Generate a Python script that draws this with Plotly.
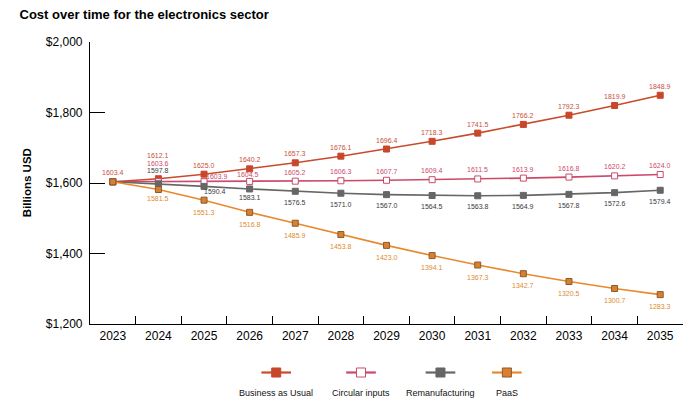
import plotly.graph_objects as go

years = ["2023", "2024", "2025", "2026", "2027", "2028", "2029", "2030", "2031", "2032", "2033", "2034", "2035"]
bau = [1603.4, 1612.1, 1625.0, 1640.2, 1657.3, 1676.1, 1696.4, 1718.3, 1741.5, 1766.2, 1792.3, 1819.9, 1848.9]
circular = [1603.4, 1603.6, 1603.9, 1604.5, 1605.2, 1606.3, 1607.7, 1609.4, 1611.5, 1613.9, 1616.8, 1620.2, 1624.0]
reman = [1603.4, 1597.8, 1590.4, 1583.1, 1576.5, 1571.0, 1567.0, 1564.5, 1563.8, 1564.9, 1567.8, 1572.6, 1579.4]
paas = [1603.4, 1581.5, 1551.3, 1516.8, 1485.9, 1453.8, 1423.0, 1394.1, 1367.3, 1342.7, 1320.5, 1300.7, 1283.3]
series_names = ["Business as Usual", "Circular inputs", "Remanufacturing", "PaaS"]
y_ticks = [1200, 1400, 1600, 1800, 2000]
y_tick_labels = ["$1,200", "$1,400", "$1,600", "$1,800", "$2,000"]

FONT = "Liberation Sans, Arial, Helvetica, sans-serif"

styles = [
    dict(line="#C84B2B", fill="#C8462A", border="#C8462A", text="#C8503A", dy=-9),
    dict(line="#CB4A6C", fill="#FFFFFF", border="#CB4A6C", text="#CB4A6C", dy=-9),
    dict(line="#666666", fill="#666666", border="#666666", text="#3A3A3A", dy=11),
    dict(line="#E8892E", fill="#D98030", border="#8B5A2B", text="#E08A30", dy=12),
]
all_series = [bau, circular, reman, paas]

# label overrides: (series index, point index) -> (xshift, yshift) or None to hide
overrides = {
    (1, 0): None, (2, 0): None, (3, 0): None,
    (0, 1): (0, -23), (1, 1): (0, -18), (2, 1): (0, -13), (3, 1): (0, 9),
    (1, 2): (13, -5), (2, 2): (11, 5),
    (1, 3): (-2, -7), (2, 3): (0, 9),
}

fig = go.Figure()
annotations = []
for si, (name, vals, st) in enumerate(zip(series_names, all_series, styles)):
    fig.add_trace(go.Scatter(
        x=years, y=vals, mode="lines+markers", name=name,
        line=dict(color=st["line"], width=1.6),
        marker=dict(symbol="square", size=6, color=st["fill"],
                    line=dict(color=st["border"], width=1)),
        showlegend=False,
    ))
    for pi, v in enumerate(vals):
        key = (si, pi)
        if key in overrides:
            if overrides[key] is None:
                continue
            xs, ys = overrides[key]
        else:
            xs, ys = 0, st["dy"]
        annotations.append(dict(
            x=pi, y=v, xref="x", yref="y", text=f"{v:.1f}", showarrow=False,
            xanchor="center", yanchor="middle",
            xshift=xs, yshift=-ys, font=dict(size=7, color=st["text"], family=FONT),
        ))

# Custom legend: symbol above text
legend_x = [0.314, 0.457, 0.591, 0.703]
sym_y = -0.172
shapes = []
for st, name, lx in zip(styles, series_names, legend_x):
    shapes.append(dict(type="line", xref="paper", yref="paper",
                       x0=lx - 0.025, x1=lx + 0.025, y0=sym_y, y1=sym_y,
                       line=dict(color=st["line"], width=2.2)))
    shapes.append(dict(type="rect", xref="paper", yref="paper",
                       x0=lx - 0.0076, x1=lx + 0.0076, y0=sym_y - 0.016, y1=sym_y + 0.016,
                       fillcolor=st["fill"], line=dict(color=st["border"], width=1)))
    annotations.append(dict(x=lx, y=-0.244, xref="paper", yref="paper", text=name,
                            showarrow=False, xanchor="center", yanchor="middle",
                            font=dict(size=9, color="#111111", family=FONT)))

annotations.append(dict(x=-0.106, y=0.5, xref="paper", yref="paper", text="<b>Billions USD</b>",
                        textangle=-90, showarrow=False, xanchor="center", yanchor="middle",
                        font=dict(size=11.5, color="#000", family=FONT)))

fig.update_layout(
    width=698, height=405,
    margin=dict(l=90, r=14.5, t=42, b=81),
    paper_bgcolor="white", plot_bgcolor="white",
    title=dict(text="<b>Cost over time for the electronics sector</b>", x=0.028, xanchor="left",
               y=0.965, yanchor="middle", font=dict(size=13, color="#000", family=FONT)),
    font=dict(family=FONT, color="#000"),
    xaxis=dict(type="category", range=[-0.5, 12.5], tickson="boundaries",
               ticks="inside", ticklen=8, tickcolor="#000", tickwidth=1,
               showline=True, linecolor="#000", linewidth=1.2, showgrid=False,
               tickfont=dict(size=12, color="#000")),
    yaxis=dict(range=[1200, 2000], tickvals=y_ticks, ticktext=y_tick_labels,
               ticks="inside", ticklen=15, tickcolor="#000", tickwidth=1,
               showline=True, linecolor="#000", linewidth=1.2, showgrid=False, zeroline=False,
               tickfont=dict(size=12, color="#000"), ticklabelstandoff=4),
    shapes=shapes,
    annotations=annotations,
    showlegend=False,
)

fig.write_html("out.html", config={"displayModeBar": False},
               post_script="document.body.style.margin='0';")
